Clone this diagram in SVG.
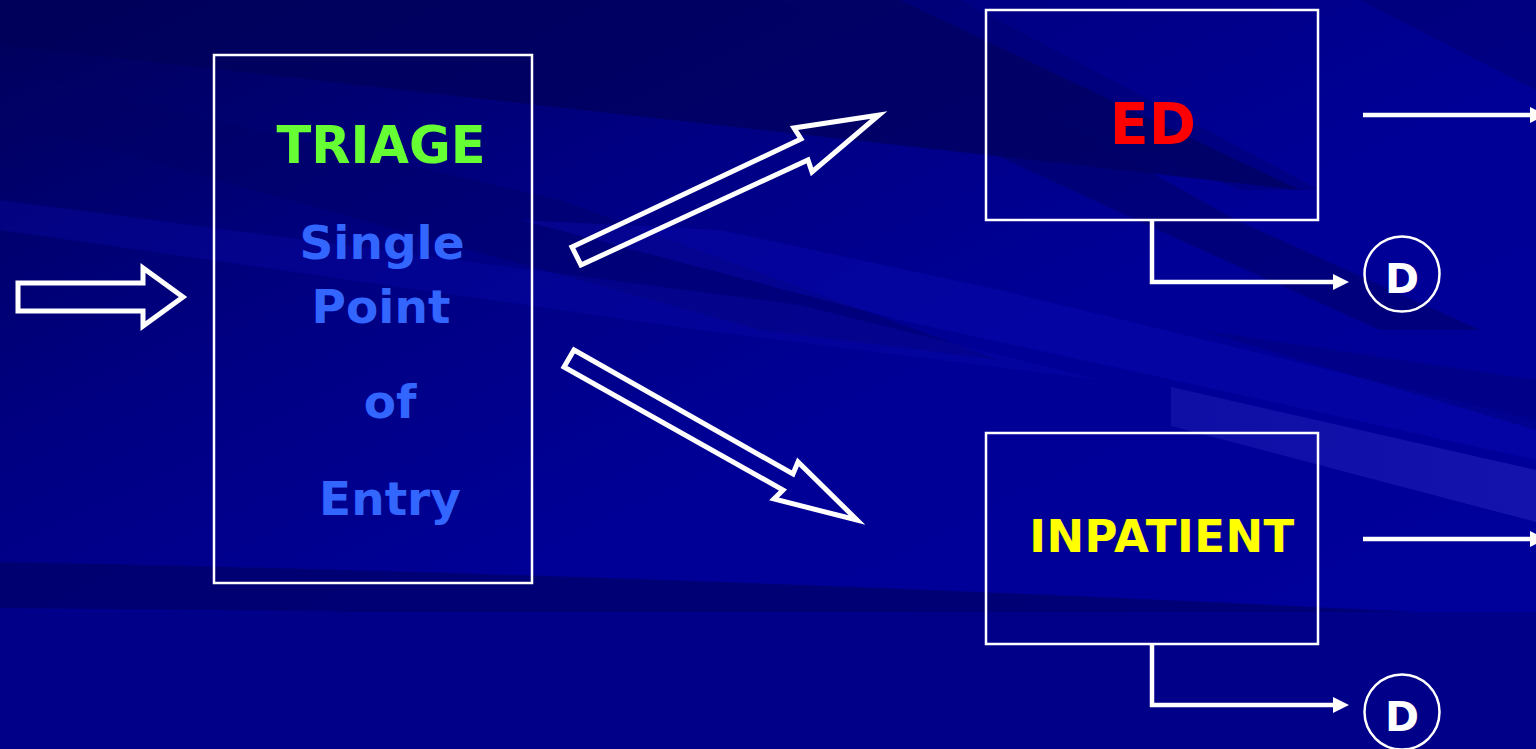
<svg xmlns="http://www.w3.org/2000/svg" width="1536" height="749" viewBox="0 0 1536 749">
  <defs>
    <linearGradient id="bgGrad" x1="0" y1="0" x2="1" y2="1">
      <stop offset="0" stop-color="#00005a"/>
      <stop offset="0.3" stop-color="#000082"/>
      <stop offset="0.55" stop-color="#000096"/>
      <stop offset="1" stop-color="#00009c"/>
    </linearGradient>
    <linearGradient id="glow" x1="0" y1="0" x2="1" y2="0">
      <stop offset="0" stop-color="#3a3ad0" stop-opacity="0.25"/>
      <stop offset="1" stop-color="#3a3ad0" stop-opacity="0.35"/>
    </linearGradient>
    <marker id="head" viewBox="0 0 16 16" refX="2" refY="8" markerWidth="16" markerHeight="16" markerUnits="userSpaceOnUse" orient="auto">
      <path d="M0,0 L16,8 L0,16 Z" fill="#ffffff"/>
    </marker>
    <style>
      .box { fill: none; stroke: #ffffff; stroke-width: 2.5; }
      .block { fill: none; stroke: #ffffff; stroke-width: 5; stroke-linejoin: miter; stroke-miterlimit: 10; }
      .link { fill: none; stroke: #ffffff; stroke-width: 4.5; }
      .ring { fill: none; stroke: #ffffff; stroke-width: 2.5; }
      .lbl { font-family: "DejaVu Sans", Verdana, sans-serif; font-weight: bold; text-anchor: middle; }
      .blue { fill: #3366ff; font-size: 47px; }
      .dark { fill: #000066; }
      .deep { fill: #00005a; }
      .lite { fill: #0a0ab4; }
    </style>
  </defs>

  <!-- backdrop with diagonal streaks -->
  <g id="background">
    <rect x="0" y="0" width="1536" height="749" fill="url(#bgGrad)"/>
    <polygon class="deep" opacity="0.7" points="0,0 900,0 1300,190 0,45"/>
    <polygon class="dark" opacity="0.45" points="0,70 0,120 760,330 1000,360 560,200"/>
    <polygon class="dark" opacity="0.35" points="780,0 960,0 1320,190 1240,190"/>
    <polygon class="dark" opacity="0.55" points="985,80 985,150 1180,240 1380,330 1480,330 1236,220"/>
    <polygon class="lite" opacity="0.3" points="0,200 0,230 700,330 1100,380 800,305"/>
    <polygon class="lite" opacity="0.4" points="520,220 720,230 1000,290 1536,420 1536,460 900,320"/>
    <polygon class="dark" opacity="0.4" points="1360,0 1536,0 1536,90"/>
    <polygon class="dark" opacity="0.3" points="1200,330 1536,380 1536,430"/>
    <polygon fill="url(#glow)" points="1171,387 1536,470 1536,522 1171,426"/>
    <path class="dark" opacity="0.7" d="M0,562 Q700,575 1536,618 L1536,628 Q700,615 0,608 Z"/>
    <rect x="0" y="612" width="1536" height="137" fill="#000088"/>
  </g>

  <!-- incoming arrow -->
  <g id="arrow-in">
    <polygon class="block" points="18,283 143,283 143,268 183,297 143,326 143,311 18,311"/>
  </g>

  <g id="triage">
    <rect class="box" x="214" y="55" width="318" height="528"/>
    <text class="lbl" x="381" y="163" fill="#66ff33" font-size="51">TRIAGE</text>
    <text class="lbl blue" x="382" y="259">Single</text>
    <text class="lbl blue" x="381" y="323">Point</text>
    <text class="lbl blue" x="390" y="418">of</text>
    <text class="lbl blue" x="390" y="515">Entry</text>
  </g>

  <!-- block arrows out of triage -->
  <g id="arrow-ed">
    <polygon class="block" points="572,247 801,139 794,128 879,115 812,172 808,160 581,265"/>
  </g>
  <g id="arrow-inpatient">
    <polygon class="block" points="574,350 793,474 798,462 857,520 774,499 783,490 564,367"/>
  </g>

  <g id="ed">
    <rect class="box" x="986" y="10" width="332" height="210"/>
    <text class="lbl" x="1153" y="144" fill="#ff0000" font-size="57">ED</text>
  </g>

  <g id="inpatient">
    <rect class="box" x="986" y="433" width="332" height="211"/>
    <text class="lbl" x="1162" y="552" fill="#ffff00" font-size="45" letter-spacing="0.5">INPATIENT</text>
  </g>

  <g id="d-ed">
    <circle class="ring" cx="1402" cy="274" r="37.5"/>
    <text class="lbl" x="1402" y="293" fill="#ffffff" font-size="41">D</text>
  </g>

  <g id="d-inpatient">
    <circle class="ring" cx="1402" cy="712" r="37.5"/>
    <text class="lbl" x="1402" y="731" fill="#ffffff" font-size="41">D</text>
  </g>

  <g id="connectors">
    <path class="link" d="M1152,221 V282 H1335" marker-end="url(#head)"/>
    <path class="link" d="M1152,644 V705 H1335" marker-end="url(#head)"/>
    <path class="link" d="M1363,115 H1532" marker-end="url(#head)"/>
    <path class="link" d="M1363,539 H1532" marker-end="url(#head)"/>
  </g>
</svg>
